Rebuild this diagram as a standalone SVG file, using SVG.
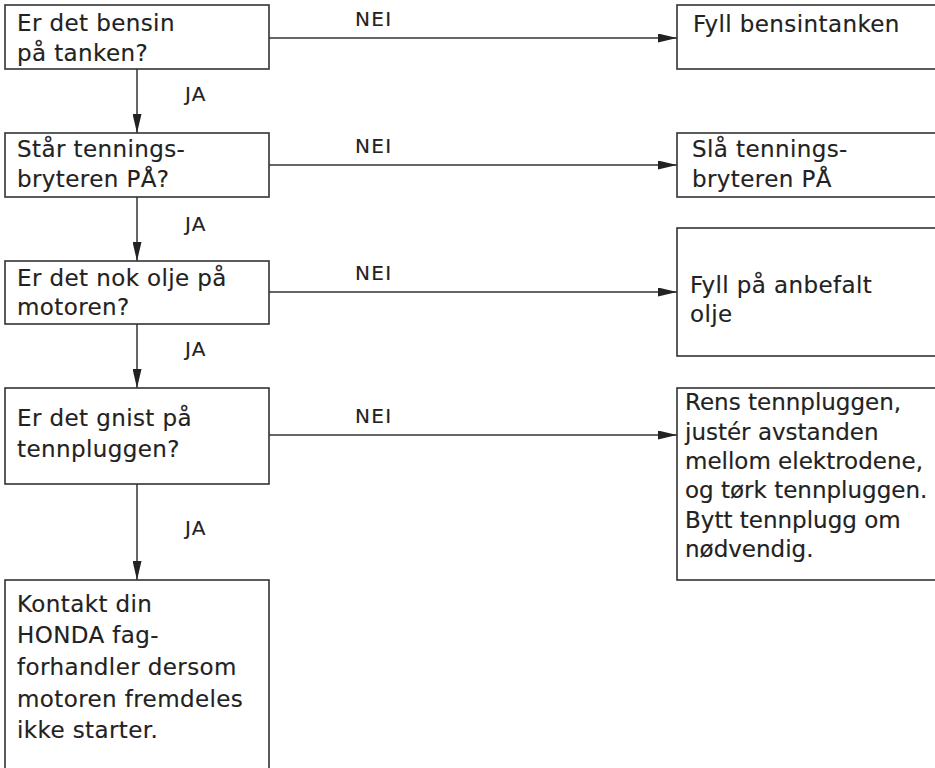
<svg xmlns="http://www.w3.org/2000/svg" width="935" height="768" viewBox="0 0 935 768">
<style>
.box{fill:#fff;stroke:#333;stroke-width:1.6}
.t{font-family:"DejaVu Sans","Liberation Sans",sans-serif;font-size:23px;letter-spacing:0.4px;fill:#222;stroke:#222;stroke-width:0.15}
.n{letter-spacing:0px}
.l{font-family:"DejaVu Sans","Liberation Sans",sans-serif;font-size:20px;letter-spacing:1.3px;fill:#222;stroke:#222;stroke-width:0.15}
.c{stroke:#333;stroke-width:1.5;fill:none;marker-end:url(#ah)}
</style>
<defs>
<marker id="ah" viewBox="0 0 19 9" refX="19" refY="4.5" markerWidth="19" markerHeight="9" markerUnits="userSpaceOnUse" orient="auto">
<path d="M0,0 L19,4.5 L0,9 z" fill="#222"/>
</marker>
</defs>
<rect width="935" height="768" fill="#fff"/>
<g id="connectors">
<path class="c" d="M269,38 H677"/>
<path class="c" d="M269,165 H677"/>
<path class="c" d="M269,292 H677"/>
<path class="c" d="M269,435 H677"/>
<path class="c" d="M137,69 V133"/>
<path class="c" d="M137,197 V261"/>
<path class="c" d="M137,324 V388"/>
<path class="c" d="M137,484 V580"/>
<text class="l" x="355" y="26">NEI</text>
<text class="l" x="355" y="153">NEI</text>
<text class="l" x="355" y="280">NEI</text>
<text class="l" x="355" y="423">NEI</text>
<text class="l" x="185" y="101">JA</text>
<text class="l" x="185" y="231">JA</text>
<text class="l" x="185" y="356">JA</text>
<text class="l" x="185" y="535">JA</text>
</g>
<g id="q1">
<rect class="box" x="5" y="5" width="264" height="64"/>
<text class="t" x="17" y="31">Er det bensin</text>
<text class="t" x="17" y="61">på tanken?</text>
</g>
<g id="q2">
<rect class="box" x="5" y="133" width="264" height="64"/>
<text class="t" x="17" y="157">Står tennings-</text>
<text class="t" x="17" y="187">bryteren PÅ?</text>
</g>
<g id="q3">
<rect class="box" x="5" y="261" width="264" height="63"/>
<text class="t" x="17" y="286">Er det nok olje på</text>
<text class="t" x="17" y="315">motoren?</text>
</g>
<g id="q4">
<rect class="box" x="5" y="388" width="264" height="96"/>
<text class="t" x="17" y="426">Er det gnist på</text>
<text class="t" x="17" y="457">tennpluggen?</text>
</g>
<g id="end">
<rect class="box" x="5" y="580" width="264" height="200"/>
<text class="t" x="17" y="612">Kontakt din</text>
<text class="t" x="17" y="643">HONDA fag-</text>
<text class="t" x="17" y="675">forhandler dersom</text>
<text class="t" x="17" y="707">motoren fremdeles</text>
<text class="t" x="17" y="738">ikke starter.</text>
</g>
<g id="a1">
<rect class="box" x="677" y="5" width="270" height="64"/>
<text class="t" x="693" y="32">Fyll bensintanken</text>
</g>
<g id="a2">
<rect class="box" x="677" y="133" width="270" height="64"/>
<text class="t" x="692" y="157">Slå tennings-</text>
<text class="t" x="692" y="187">bryteren PÅ</text>
</g>
<g id="a3">
<rect class="box" x="677" y="228" width="270" height="128"/>
<text class="t" x="690" y="293">Fyll på anbefalt</text>
<text class="t" x="690" y="322">olje</text>
</g>
<g id="a4">
<rect class="box" x="677" y="388" width="270" height="192"/>
<text class="t n" x="685" y="410">Rens tennpluggen,</text>
<text class="t n" x="685" y="440">justér avstanden</text>
<text class="t n" x="685" y="469">mellom elektrodene,</text>
<text class="t n" x="685" y="498">og tørk tennpluggen.</text>
<text class="t n" x="685" y="528">Bytt tennplugg om</text>
<text class="t n" x="685" y="557">nødvendig.</text>
</g>
</svg>
